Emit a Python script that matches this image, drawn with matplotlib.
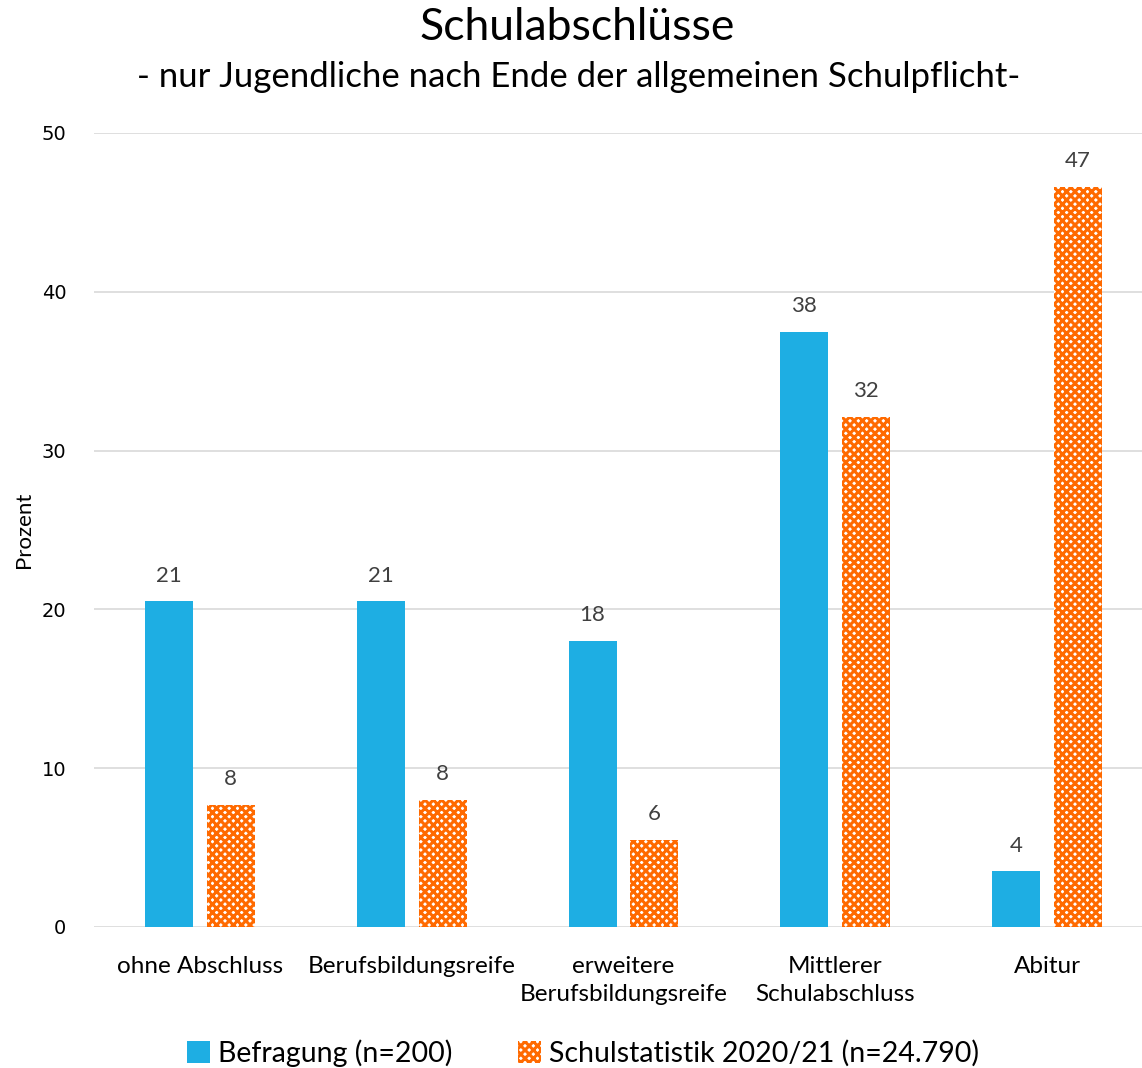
import numpy as np
import matplotlib.pyplot as plt
from matplotlib.patches import Patch

# Data
categories = ['ohne Abschluss', 'Berufsbildungsreife', 'erweitere\nBerufsbildungsreife',
              'Mittlerer\nSchulabschluss', 'Abitur']
befragung = [20.5, 20.5, 18.0, 37.5, 3.5]
schulstatistik = [7.7, 8.0, 5.5, 32.1, 46.6]
labels_befragung = ['21', '21', '18', '38', '4']
labels_schulstatistik = ['8', '8', '6', '32', '47']
series_names = ['Befragung (n=200)', 'Schulstatistik 2020/21 (n=24.790)']

blue = '#1EAEE3'
orange = '#FF6A00'
text_col = '#404040'

plt.rcParams['font.family'] = ['Lato', 'DejaVu Sans']
plt.rcParams['hatch.linewidth'] = 2.2
plt.rcParams['hatch.color'] = orange

fig = plt.figure(figsize=(11.42, 10.68), dpi=100)
# axes in pixel coords: x from 94 to 1153, y from 927 (0) to 133 (50)
W, H = 1142, 1068
ax = fig.add_axes([94 / W, (H - 927) / H, (1153 - 94) / W, (927 - 133) / H])

x = np.arange(len(categories))
w = 0.226
off = 0.146
b1 = ax.bar(x - off, befragung, w, color=blue, label=series_names[0])
b2 = ax.bar(x + off, schulstatistik, w, facecolor='white', edgecolor=orange,
            hatch='xxxx', linewidth=0, label=series_names[1])

for bars, vals, labs in [(b1, befragung, labels_befragung),
                         (b2, schulstatistik, labels_schulstatistik)]:
    for r, v, lab in zip(bars, vals, labs):
        ax.text(r.get_x() + r.get_width() / 2, v + 1.0, lab,
                ha='center', va='bottom', fontsize=16, color=text_col)

ax.set_xlim(-0.5, 4.5)
ax.set_ylim(0, 50)
ax.set_yticks(range(0, 51, 10))
ax.set_yticklabels([str(v) for v in range(0, 51, 10)], family='DejaVu Sans',
                   fontsize=14, color='black')
ax.set_xticks(x)
ax.set_xticklabels(categories, fontsize=17.5, color='black', linespacing=1.4)
ax.tick_params(length=0)
ax.tick_params(axis='y', pad=20)
ax.tick_params(axis='x', pad=21)
ax.grid(axis='y', color='#D9D9D9', linewidth=1.2)
ax.set_axisbelow(True)
for s in ax.spines.values():
    s.set_visible(False)
ax.set_ylabel('Prozent', fontsize=16)
ax.yaxis.set_label_coords(-60 / (1153 - 94), 0.5)

fig.text(577 / W, 1 - 28 / H, 'Schulabschlüsse', ha='center', va='center', fontsize=32)
fig.text(579 / W, 1 - 77 / H, '- nur Jugendliche nach Ende der allgemeinen Schulpflicht-',
         ha='center', va='center', fontsize=25)

handles = [Patch(facecolor=blue), Patch(facecolor='white', edgecolor=orange, hatch='xxxx', linewidth=0)]
fig.legend(handles, series_names, loc='center', bbox_to_anchor=(583 / W, 1 - 1053 / H),
           ncol=2, frameon=False, fontsize=20.5, handlelength=0.8, handleheight=0.8,
           handletextpad=0.3, columnspacing=2.3)

fig.savefig('out.png', dpi=100)
